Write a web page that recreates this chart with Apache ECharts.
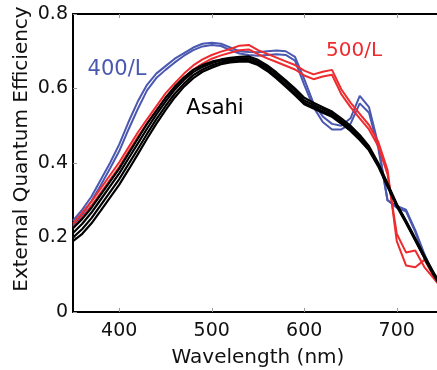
<!DOCTYPE html>
<html><head><meta charset="utf-8">
<script src="https://cdn.jsdelivr.net/npm/echarts@6/dist/echarts.min.js"></script>
<style>html,body{margin:0;padding:0;background:#fff}#c{width:437px;height:370px}</style>
</head><body><div id="c"></div><script>
// Wavelength grid (nm)
const wavelengths = [350,360,370,380,390,400,410,420,430,440,450,460,470,480,490,500,510,520,530,540,550,560,570,580,590,600,610,620,630,640,650,660,670,680,690,700,710,720,730,740,750];
// 400/L (blue)
const blueA = [.245,.275,.31,.355,.40,.45,.51,.565,.61,.64,.66,.68,.695,.71,.72,.723,.72,.71,.70,.698,.697,.70,.702,.70,.685,.625,.56,.525,.505,.50,.52,.58,.55,.45,.30,.285,.275,.22,.155,.10,.06];
const blueB = [.232,.262,.298,.34,.385,.432,.49,.545,.595,.628,.65,.67,.688,.703,.713,.717,.714,.703,.694,.69,.688,.69,.692,.69,.675,.61,.55,.51,.49,.49,.505,.56,.535,.44,.30,.28,.27,.215,.15,.095,.055];
// 500/L (red)
const redA = [.237,.267,.297,.332,.367,.402,.442,.482,.517,.552,.587,.614,.64,.662,.678,.69,.699,.706,.715,.717,.703,.693,.683,.673,.663,.648,.638,.645,.65,.598,.562,.532,.502,.457,.382,.19,.125,.12,.14,.095,.065];
const redB = [.226,.255,.286,.32,.355,.39,.43,.47,.506,.541,.575,.602,.629,.651,.667,.68,.689,.696,.703,.705,.692,.681,.671,.661,.651,.635,.625,.632,.637,.585,.55,.52,.49,.445,.37,.21,.16,.165,.12,.09,.06];
// Asahi (black)
const blackA = [.225,.25,.28,.315,.35,.385,.425,.465,.505,.54,.575,.605,.63,.65,.663,.672,.678,.682,.685,.686,.677,.662,.643,.622,.60,.575,.562,.55,.538,.52,.50,.475,.445,.40,.345,.29,.245,.198,.15,.105,.065];
const blackB = [.212,.237,.267,.302,.337,.372,.412,.452,.492,.53,.565,.597,.623,.644,.658,.668,.675,.679,.681,.681,.672,.657,.638,.617,.594,.568,.556,.545,.533,.514,.494,.469,.44,.396,.342,.288,.243,.196,.148,.103,.063];
const blackC = [.20,.223,.252,.287,.322,.357,.397,.437,.478,.517,.553,.586,.613,.636,.651,.662,.67,.674,.676,.676,.667,.651,.632,.61,.587,.562,.55,.539,.528,.509,.489,.465,.436,.393,.339,.286,.241,.194,.146,.101,.061];
const blackD = [.19,.21,.238,.272,.307,.342,.382,.423,.465,.505,.542,.576,.605,.628,.645,.656,.665,.67,.672,.672,.663,.647,.627,.605,.582,.558,.546,.535,.524,.506,.486,.462,.434,.391,.337,.284,.239,.192,.144,.099,.059];
// Axis ticks
const xTicks = [400,500,600,700];
const yTicks = [0,0.2,0.4,0.6,0.8];

const F = 'DejaVu Sans';
const BLUE = '#4a58b0', RED = '#ee2b2e', BLACK = '#000';
function mk(vals, color, w, z){
  return {type:'line', data: wavelengths.map((x,i)=>[x, vals[i]]), symbol:'none', showSymbol:false,
    lineStyle:{color:color, width:w}, itemStyle:{color:color}, z:z, animation:false, silent:true};
}
const chart = echarts.init(document.getElementById('c'), null, {renderer:'canvas'});
chart.setOption({
  animation:false,
  grid:{left:73, top:14, width:370, height:298, outerBoundsMode:'none', containLabel:false},
  xAxis:[{
    type:'value', min:350, max:750, position:'bottom',
    axisLine:{lineStyle:{color:'#000', width:2}},
    axisTick:{inside:true, length:4, customValues:xTicks, lineStyle:{color:'#999', width:1}},
    axisLabel:{customValues:xTicks, fontFamily:F, fontSize:19, color:'#111', margin:10},
    splitLine:{show:false},
    name:'Wavelength (nm)', nameLocation:'middle', nameGap:36,
    nameTextStyle:{fontFamily:F, fontSize:20, color:'#111'}
  },{
    type:'value', min:350, max:750, position:'top',
    axisLine:{lineStyle:{color:'#000', width:2}},
    axisTick:{inside:true, length:4, customValues:xTicks, lineStyle:{color:'#999', width:1}},
    axisLabel:{show:false}, splitLine:{show:false}
  }],
  yAxis:[{
    type:'value', min:0, max:0.8, interval:0.2,
    axisLine:{show:true, lineStyle:{color:'#000', width:2}},
    axisTick:{show:true, inside:true, length:4, lineStyle:{color:'#999', width:1}},
    axisLabel:{fontFamily:F, fontSize:19, color:'#111', margin:5,
      formatter:v=> v===0 ? '0' : v.toFixed(1)},
    splitLine:{show:false}
  }],
  graphic:[
    {type:'text', x:22, y:149, rotation:Math.PI/2,
     style:{text:'External Quantum Efficiency', fontFamily:F, fontSize:20, fill:'#111', align:'center', verticalAlign:'middle'}},
    {type:'text', x:117, y:70, style:{text:'400/L', fontFamily:F, fontSize:21, fill:BLUE, align:'center', verticalAlign:'middle'}, z:100},
    {type:'text', x:354, y:51, style:{text:'500/L', fontFamily:F, fontSize:20, fill:RED, align:'center', verticalAlign:'middle'}, z:100},
    {type:'text', x:215, y:109, style:{text:'Asahi', fontFamily:F, fontSize:21, fill:BLACK, align:'center', verticalAlign:'middle'}, z:100}
  ],
  series:[
    mk(blueA, BLUE, 2, 2), mk(blueB, BLUE, 2, 2),
    mk(redA, RED, 2, 3), mk(redB, RED, 2, 3),
    mk(blackA, BLACK, 2.2, 4), mk(blackB, BLACK, 2.2, 4), mk(blackC, BLACK, 2.2, 4), mk(blackD, BLACK, 2.2, 4)
  ]
});
</script></body></html>
